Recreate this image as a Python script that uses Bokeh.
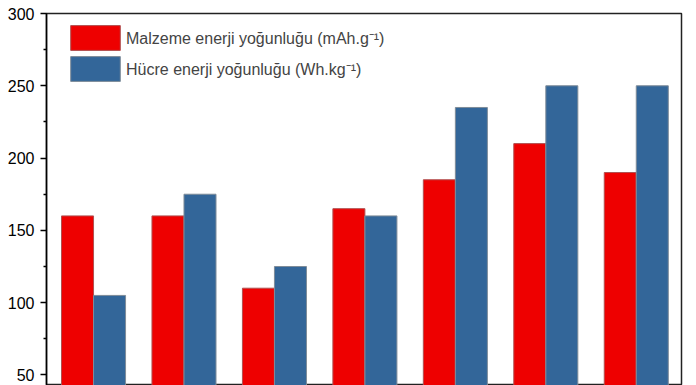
from bokeh.plotting import figure
from bokeh.models import ColumnDataSource, Range1d, Legend, LegendItem, FixedTicker
from bokeh.transform import dodge
from bokeh.embed import file_html
from bokeh.resources import INLINE

groups = [0, 1, 2, 3, 4, 5, 6]
malzeme = [160, 160, 110, 165, 185, 210, 190]
hucre = [105, 175, 125, 160, 235, 250, 250]
y_ticks = [50, 100, 150, 200, 250, 300]
label_malzeme = "Malzeme enerji yoğunluğu (mAh.g\u207b\u00b9)"
label_hucre = "Hücre enerji yoğunluğu (Wh.kg\u207b\u00b9)"

src = ColumnDataSource(dict(x=groups, m=malzeme, h=hucre))

p = figure(width=696, height=385, output_backend="svg", toolbar_location=None,
           x_range=Range1d(-0.52, 6.5), y_range=Range1d(42.7, 300),
           min_border_left=46, min_border_top=13, min_border_right=15, min_border_bottom=0)
p.xaxis.visible = False
p.xgrid.visible = False
p.ygrid.visible = False
p.background_fill_color = "white"
p.border_fill_color = "white"
p.outline_line_color = "#222222"
p.outline_line_width = 1.5

BW = 0.354
r1 = p.vbar(x=dodge("x", -BW / 2), top="m", bottom=0, width=BW, source=src,
            fill_color="#EE0000", line_color="#B05050", line_width=1)
r2 = p.vbar(x=dodge("x", BW / 2), top="h", bottom=0, width=BW, source=src,
            fill_color="#336699", line_color="#7F8C99", line_width=1)

ax = p.yaxis[0]
ax.ticker = FixedTicker(ticks=y_ticks, minor_ticks=[75, 125, 175, 225, 275])
ax.major_label_text_font = "Liberation Sans"
ax.major_label_text_font_size = "16px"
ax.major_label_text_color = "black"
ax.axis_line_color = "black"
ax.axis_line_width = 1.5
ax.major_tick_line_color = "black"
ax.major_tick_line_width = 1.5
ax.major_tick_out = 6
ax.major_tick_in = 0
ax.minor_tick_line_color = "black"
ax.minor_tick_line_width = 1.5
ax.minor_tick_out = 3
ax.minor_tick_in = 0
ax.major_label_standoff = 6

legend = Legend(items=[LegendItem(label=label_malzeme, renderers=[r1]),
                       LegendItem(label=label_hucre, renderers=[r2])],
                location=(18, 301), margin=0, padding=0, spacing=0,
                glyph_width=62, glyph_height=31, label_standoff=0,
                label_text_font="Liberation Sans", label_text_font_size="16px",
                label_height=31,
                border_line_color=None, background_fill_alpha=0)
p.add_layout(legend, "center")

open("out.html", "w").write(file_html(p, INLINE))
